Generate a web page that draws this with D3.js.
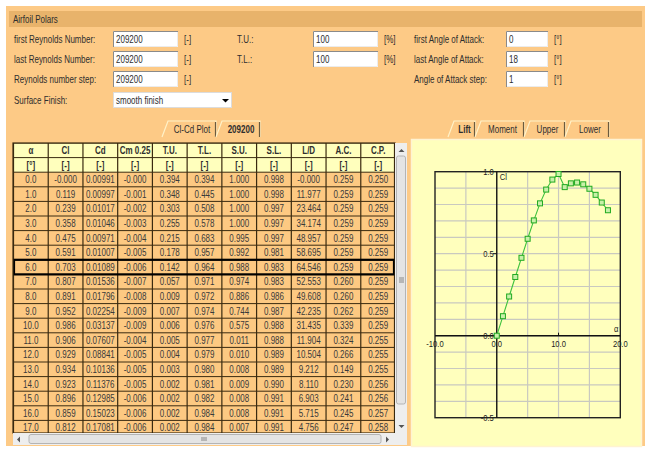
<!DOCTYPE html>
<html>
<head>
<meta charset="utf-8">
<script src="https://cdn.jsdelivr.net/npm/d3@7"></script>
<style>
  html, body { margin: 0; padding: 0; background: #ffffff; }
  svg { display: block; font-family: "Liberation Sans", Arial, sans-serif; }
</style>
</head>
<body>
<svg id="view" width="648" height="450"></svg>
<script>
// ---- polar data (alpha in degrees) ----
const alphaDeg = [0, 1, 2, 3, 4, 5, 6, 7, 8, 9, 10, 11, 12, 13, 14, 15, 16, 17, 18];
const cl  = [-0.000, 0.119, 0.239, 0.358, 0.475, 0.591, 0.703, 0.807, 0.891, 0.952, 0.986, 0.906, 0.929, 0.934, 0.923, 0.896, 0.859, 0.812, 0.765];
const cd  = [0.00991, 0.00997, 0.01017, 0.01046, 0.00971, 0.01007, 0.01089, 0.01536, 0.01796, 0.02254, 0.03137, 0.07607, 0.08841, 0.10136, 0.11376, 0.12985, 0.15023, 0.17081];
const cm  = [-0.000, -0.001, -0.002, -0.003, -0.004, -0.005, -0.006, -0.007, -0.008, -0.009, -0.009, -0.004, -0.005, -0.005, -0.005, -0.006, -0.006, -0.006];
const tu  = [0.394, 0.348, 0.303, 0.255, 0.215, 0.178, 0.142, 0.057, 0.009, 0.007, 0.006, 0.005, 0.004, 0.003, 0.002, 0.002, 0.002, 0.002];
const tl  = [0.394, 0.445, 0.508, 0.578, 0.683, 0.957, 0.964, 0.971, 0.972, 0.974, 0.976, 0.977, 0.979, 0.980, 0.981, 0.982, 0.984, 0.984];
const su  = [1.000, 1.000, 1.000, 1.000, 0.995, 0.992, 0.988, 0.974, 0.886, 0.744, 0.575, 0.011, 0.010, 0.008, 0.009, 0.008, 0.008, 0.007];
const sl  = [0.998, 0.998, 0.997, 0.997, 0.997, 0.981, 0.983, 0.983, 0.986, 0.987, 0.988, 0.988, 0.989, 0.989, 0.990, 0.991, 0.991, 0.991];
const ld  = [-0.000, 11.977, 23.464, 34.174, 48.957, 58.695, 64.546, 52.553, 49.608, 42.235, 31.435, 11.904, 10.504, 9.212, 8.110, 6.903, 5.715, 4.756];
const ac  = [0.259, 0.259, 0.259, 0.259, 0.259, 0.259, 0.259, 0.260, 0.260, 0.262, 0.339, 0.324, 0.266, 0.149, 0.230, 0.241, 0.245, 0.247];
const cp  = [0.250, 0.259, 0.259, 0.259, 0.259, 0.259, 0.259, 0.259, 0.259, 0.259, 0.259, 0.255, 0.255, 0.255, 0.256, 0.256, 0.257, 0.258];

// ---- table headings ----
const colNames = ["α", "Cl", "Cd", "Cm 0.25", "T.U.", "T.L.", "S.U.", "S.L.", "L/D", "A.C.", "C.P."];
const colUnits = ["[°]", "[-]", "[-]", "[-]", "[-]", "[-]", "[-]", "[-]", "[-]", "[-]", "[-]"];
const selectedRow = 6;

// ---- chart axes ----
const xTicks = [-10, 0, 10, 20];
const yTicks = [-0.5, 0.0, 0.5, 1.0];

// ---- form fields ----
const formLeft = [
  { label: "first Reynolds Number:", value: "209200", unit: "[-]" },
  { label: "last Reynolds Number:",  value: "209200", unit: "[-]" },
  { label: "Reynolds number step:",  value: "209200", unit: "[-]" }
];
const formMid = [
  { label: "T.U.:", value: "100", unit: "[%]" },
  { label: "T.L.:", value: "100", unit: "[%]" }
];
const formRight = [
  { label: "first Angle of Attack:", value: "0",  unit: "[°]" },
  { label: "last Angle of Attack:",  value: "18", unit: "[°]" },
  { label: "Angle of Attack step:",  value: "1",  unit: "[°]" }
];
const leftTabs  = [{ name: "Cl-Cd Plot", w: 54, on: false }, { name: "209200", w: 44, on: true }];
const rightTabs = [{ name: "Lift", w: 27, on: true }, { name: "Moment", w: 49, on: false },
                   { name: "Upper", w: 41, on: false }, { name: "Lower", w: 44, on: false }];

const ORANGE = "#fdca86", HEADER = "#e8b36b", CELL = "#fdc982", PALE = "#ffffbd", TXT = "#2e2e2e";
const SX = 0.8;   // horizontal squeeze of the GUI font

const svg = d3.select("#view");

// text helper: narrow GUI-style lettering
function label(g, x, y, s, o = {}) {
  return g.append("text")
    .attr("transform", `translate(${x},${y}) scale(${o.sx || SX},1)`)
    .attr("text-anchor", o.anchor || "start")
    .attr("font-size", o.size || 10)
    .attr("font-weight", o.bold ? "bold" : "normal")
    .attr("fill", o.fill || TXT)
    .text(s);
}

// fixed-point formatting that keeps the sign of a negative zero
const fix = n => v => (Object.is(v, -0) ? "-" : "") + v.toFixed(n);

// panel + title bar
svg.append("rect").attr("x", 6).attr("y", 6).attr("width", 639).attr("height", 440).attr("fill", ORANGE);
svg.append("rect").attr("x", 9).attr("y", 11).attr("width", 633).attr("height", 16).attr("fill", HEADER);
label(svg, 13, 23, "Airfoil Polars");

// form rows
const rowY = d3.scaleLinear().domain([0, 1]).range([31, 51]);

function inputBox(g, x, y, w, val) {
  g.append("rect").attr("x", x).attr("y", y).attr("width", w).attr("height", 16).attr("fill", "#ffffff");
  g.append("path").attr("d", `M${x + 0.5},${y + 16}V${y + 0.5}H${x + w}`).attr("fill", "none").attr("stroke", "#8a8a8a");
  g.append("path").attr("d", `M${x + 1},${y + 15.5}H${x + w - 0.5}V${y + 1}`).attr("fill", "none").attr("stroke", "#ececec");
  label(g, x + 3, y + 12, val);
}

function formColumn(items, lx, ix, iw, ux) {
  const g = svg.append("g");
  items.forEach((d, i) => {
    const y = rowY(i);
    label(g, lx, y + 12, d.label);
    inputBox(g, ix, y, iw, d.value);
    label(g, ux, y + 12, d.unit);
  });
}
formColumn(formLeft, 14, 113, 65, 184);
formColumn(formMid, 237, 313, 65, 384);
formColumn(formRight, 414, 506, 42, 554);

// surface finish dropdown
label(svg, 14, 104, "Surface Finish:");
svg.append("rect").attr("x", 113.5).attr("y", 92.5).attr("width", 118).attr("height", 15).attr("fill", "#ffffff")
  .attr("stroke", "#dcdcdc");
label(svg, 116, 104, "smooth finish");
svg.append("path").attr("d", "M222,99h7l-3.5,3.5z").attr("fill", "#000");

// tabs
function tabs(list, x0) {
  let x = x0;
  list.forEach(t => {
    const g = svg.append("g");
    g.append("path").attr("d", `M${x},137L${x + 6},121H${x + t.w}V137`).attr("fill", ORANGE)
      .attr("stroke", "#fff2c8").attr("stroke-width", 1.2);
    g.append("line").attr("x1", x + t.w - 0.5).attr("x2", x + t.w - 0.5).attr("y1", 122).attr("y2", 137)
      .attr("stroke", "#6b5a3e").attr("stroke-width", 1.2);
    label(g, x + 3 + t.w / 2, 133, t.name, { anchor: "middle", bold: t.on });
    x += t.w;
  });
}
tabs(leftTabs, 162);
tabs(rightTabs, 448);

// ---- table ----
const rowsShown = cd.length;
const colKeys = d3.range(colNames.length);
const colX = d3.scaleBand().domain(colKeys).range([13, 395]);
const rowTop = d3.scaleLinear().domain([0, 1]).range([143, 157.6]);
const f1 = fix(1), f3 = fix(3), f5 = fix(5);
const cellText = i => [f1(alphaDeg[i]), f3(cl[i]), f5(cd[i]), f3(cm[i]), f3(tu[i]), f3(tl[i]),
  f3(su[i]), f3(sl[i]), f3(ld[i]), f3(ac[i]), f3(cp[i])];

svg.append("clipPath").attr("id", "tclip").append("rect").attr("x", 13).attr("y", 143).attr("width", 382).attr("height", 290);
const tbl = svg.append("g").attr("clip-path", "url(#tclip)");
tbl.append("rect").attr("x", 13).attr("y", 143).attr("width", 382).attr("height", 290).attr("fill", CELL);
tbl.append("rect").attr("x", 13).attr("y", rowTop(0)).attr("width", 382).attr("height", rowTop(2) - rowTop(0)).attr("fill", PALE);

const cx = c => colX(c) + colX.bandwidth() / 2 + 0.5;

// header text
[colNames, colUnits].forEach((arr, r) => {
  tbl.selectAll(null).data(arr).join("text")
    .attr("transform", (d, i) => `translate(${cx(i)},${rowTop(r) + 11}) scale(${SX},1)`)
    .attr("text-anchor", "middle").attr("font-size", 10).attr("font-weight", "bold").attr("fill", TXT).text(d => d);
});
// body text
d3.range(rowsShown).forEach(i => {
  tbl.selectAll(null).data(cellText(i)).join("text")
    .attr("transform", (d, c) => `translate(${cx(c)},${rowTop(i + 2) + 11}) scale(${SX},1)`)
    .attr("text-anchor", "middle").attr("font-size", 10).attr("fill", "#3a3a3a").text(d => d);
});
// grid lines
tbl.selectAll(null).data(d3.range(rowsShown + 3)).join("line")
  .attr("x1", 13).attr("x2", 395).attr("y1", d => rowTop(d)).attr("y2", d => rowTop(d))
  .attr("stroke", "#3a2a10").attr("stroke-width", 1);
tbl.selectAll(null).data(d3.range(colNames.length + 1)).join("line")
  .attr("x1", d => d === colNames.length ? 394.5 : colX(d) + 0.5).attr("x2", d => d === colNames.length ? 394.5 : colX(d) + 0.5)
  .attr("y1", 143).attr("y2", 433).attr("stroke", "#3a2a10").attr("stroke-width", 1.2);
// highlighted row
tbl.append("rect").attr("x", 14).attr("y", rowTop(selectedRow + 2)).attr("width", 380)
  .attr("height", rowTop(1) - rowTop(0)).attr("fill", "none").attr("stroke", "#000").attr("stroke-width", 2.2);
svg.append("rect").attr("x", 13).attr("y", 143).attr("width", 382).attr("height", 290).attr("fill", "none")
  .attr("stroke", "#3a2a10").attr("stroke-width", 1.2);

// scrollbars
const sb = svg.append("g");
sb.append("rect").attr("x", 395).attr("y", 143).attr("width", 12).attr("height", 302).attr("fill", "#eeeeee");
sb.append("rect").attr("x", 13).attr("y", 433).attr("width", 394).attr("height", 12).attr("fill", "#eeeeee");
sb.append("rect").attr("x", 396.5).attr("y", 156).attr("width", 9).attr("height", 248).attr("rx", 2)
  .attr("fill", "#e4e4e4").attr("stroke", "#b4b4b4");
sb.append("rect").attr("x", 29).attr("y", 434.5).attr("width", 352).attr("height", 9).attr("rx", 2)
  .attr("fill", "#e4e4e4").attr("stroke", "#b4b4b4");
sb.append("path").attr("d", "M398.5,152h6l-3,-3z M398.5,425h6l-3,3z").attr("fill", "#555");
sb.append("path").attr("d", "M20,436.5v6l-3,-3z M386,436.5v6l3,-3z").attr("fill", "#555");
[-2, 0, 2].forEach(o => {
  sb.append("line").attr("x1", 399).attr("x2", 404).attr("y1", 280 + o).attr("y2", 280 + o).attr("stroke", "#888");
  sb.append("line").attr("x1", 204 + o).attr("x2", 204 + o).attr("y1", 437).attr("y2", 441).attr("stroke", "#888");
});

// ---- lift chart ----
svg.append("rect").attr("x", 411.5).attr("y", 139.5).attr("width", 230).attr("height", 307)
  .attr("fill", PALE).attr("stroke", "#fff3d2").attr("stroke-width", 1.5);

const x = d3.scaleLinear().domain([-10, 20]).range([435, 620.3]);
const y = d3.scaleLinear().domain([-0.5, 1.0]).range([417.7, 171.7]);
const ch = svg.append("g");

// grid
ch.selectAll(null).data([-5, 5, 10, 15]).join("line")
  .attr("x1", d => x(d)).attr("x2", d => x(d)).attr("y1", y(1)).attr("y2", y(-0.5))
  .attr("stroke", "#c9c9c0").attr("stroke-width", 1.2);
ch.selectAll(null).data(d3.range(-4, 10).map(k => k / 10)).join("line")
  .attr("x1", x(-10)).attr("x2", x(20)).attr("y1", d => y(d)).attr("y2", d => y(d))
  .attr("stroke", "#c9c9c0").attr("stroke-width", 1.2);

// frame and axes
ch.append("rect").attr("x", x(-10)).attr("y", y(1)).attr("width", x(20) - x(-10)).attr("height", y(-0.5) - y(1))
  .attr("fill", "none").attr("stroke", "#222").attr("stroke-width", 1.4);
ch.append("line").attr("x1", x(-10)).attr("x2", x(20)).attr("y1", y(0)).attr("y2", y(0)).attr("stroke", "#111").attr("stroke-width", 1.4);
ch.append("line").attr("x1", x(0)).attr("x2", x(0)).attr("y1", y(1)).attr("y2", y(-0.5)).attr("stroke", "#111").attr("stroke-width", 1.4);
ch.append("line").attr("x1", x(10)).attr("x2", x(10)).attr("y1", y(0) - 3).attr("y2", y(0)).attr("stroke", "#111");
ch.append("line").attr("x1", x(0) - 4).attr("x2", x(0)).attr("y1", y(0.5)).attr("y2", y(0.5)).attr("stroke", "#111");

ch.selectAll(null).data(xTicks).join("text")
  .attr("transform", d => `translate(${x(d)},${y(0) + 11}) scale(${SX},1)`).attr("text-anchor", "middle")
  .attr("font-size", 9.5).attr("fill", "#222").text(f1);
ch.selectAll(null).data(yTicks).join("text")
  .attr("transform", d => `translate(${x(0) - 3},${y(d) + 3.5}) scale(${SX},1)`).attr("text-anchor", "end")
  .attr("font-size", 9.5).attr("fill", "#222").text(d => d.toFixed(1));
label(ch, x(0) + 3, y(1) + 8, "Cl", { size: 9.5, fill: "#222" });
label(ch, x(19), y(0) - 4, "α", { size: 9.5, fill: "#222" });

// Cl(α) curve
const pts = alphaDeg.map((a, i) => [a, cl[i]]);
ch.append("path").datum(pts)
  .attr("d", d3.line().x(d => x(d[0])).y(d => y(d[1])))
  .attr("fill", "none").attr("stroke", "#3ec23e").attr("stroke-width", 1.1);
ch.selectAll(null).data(pts).join("rect")
  .attr("x", d => x(d[0]) - 2.5).attr("y", d => y(d[1]) - 2.5).attr("width", 5).attr("height", 5)
  .attr("fill", "#c8f0a8").attr("stroke", "#22aa22").attr("stroke-width", 1);
</script>
</body>
</html>
